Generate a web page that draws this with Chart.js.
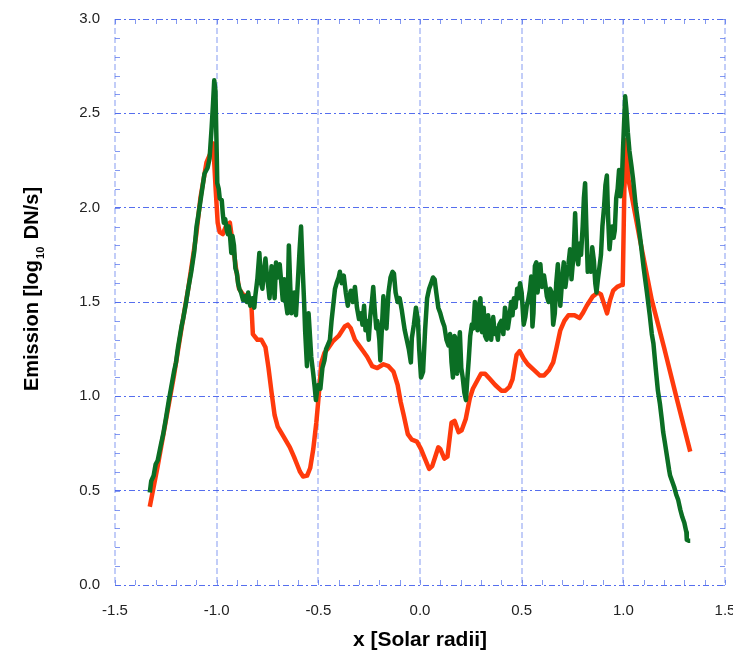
<!DOCTYPE html>
<html>
<head>
<meta charset="utf-8">
<script src="https://cdn.jsdelivr.net/npm/chart.js@4.4.1/dist/chart.umd.min.js"></script>
<style>
  body { margin: 0; background: #fff; }
  #wrap { width: 733px; height: 655px; }
</style>
</head>
<body>
<div id="wrap"><canvas id="myChart" width="733" height="655"></canvas></div>
<script>
// tick values
var xTickValues = [-1.5, -1.0, -0.5, 0.0, 0.5, 1.0, 1.5];
var yTickValues = [0.0, 0.5, 1.0, 1.5, 2.0, 2.5, 3.0];

// red curve (smooth)
var redX = [-1.329, -1.29, -1.25, -1.21, -1.17, -1.14, -1.10, -1.08, -1.05, -1.03, -1.017, -1.005, -0.995, -0.985, -0.97, -0.955, -0.935,
  -0.92, -0.905, -0.89, -0.87, -0.85, -0.83, -0.822, -0.80, -0.78, -0.76, -0.745, -0.73, -0.715, -0.70, -0.673, -0.64, -0.62, -0.605,
  -0.59, -0.575, -0.555, -0.54, -0.525, -0.51, -0.50, -0.485, -0.47, -0.455, -0.43, -0.40, -0.37, -0.355, -0.34, -0.32, -0.30, -0.28,
  -0.26, -0.235, -0.21, -0.18, -0.155, -0.13, -0.11, -0.095, -0.08, -0.06, -0.04, -0.015, 0.005, 0.02, 0.045, 0.06, 0.075, 0.09, 0.10,
  0.12, 0.135, 0.155, 0.17, 0.19, 0.205, 0.225, 0.245, 0.26, 0.28, 0.30, 0.32, 0.345, 0.37, 0.40, 0.42, 0.44, 0.455, 0.475, 0.49, 0.51,
  0.53, 0.56, 0.59, 0.61, 0.635, 0.655, 0.67, 0.69, 0.71, 0.73, 0.76, 0.785, 0.80, 0.82, 0.85, 0.875, 0.89, 0.905, 0.92, 0.935, 0.95,
  0.97, 0.99, 0.997, 1.005, 1.017, 1.025, 1.04, 1.08, 1.14, 1.20, 1.26, 1.329];
var redY = [0.415, 0.63, 0.87, 1.11, 1.38, 1.57, 1.86, 2.05, 2.24, 2.29, 2.34, 2.10, 1.92, 1.87, 1.86, 1.90, 1.92,
  1.80, 1.68, 1.57, 1.54, 1.53, 1.50, 1.33, 1.30, 1.30, 1.26, 1.15, 1.02, 0.90, 0.84, 0.79, 0.73, 0.68, 0.64,
  0.60, 0.575, 0.58, 0.62, 0.72, 0.86, 0.98, 1.18, 1.23, 1.25, 1.29, 1.32, 1.37, 1.38, 1.36, 1.30, 1.27, 1.24,
  1.21, 1.16, 1.15, 1.17, 1.16, 1.13, 1.06, 0.97, 0.90, 0.80, 0.77, 0.76, 0.72, 0.68, 0.615, 0.63, 0.68, 0.73, 0.72,
  0.67, 0.68, 0.86, 0.87, 0.81, 0.82, 0.88, 0.99, 1.04, 1.08, 1.12, 1.12, 1.09, 1.06, 1.03, 1.03, 1.05, 1.09, 1.22, 1.24, 1.20,
  1.17, 1.14, 1.11, 1.11, 1.14, 1.18, 1.25, 1.35, 1.40, 1.43, 1.43, 1.415, 1.44, 1.48, 1.53, 1.55, 1.54, 1.49, 1.44, 1.51, 1.56,
  1.58, 1.59, 1.59, 2.10, 2.36, 2.15, 2.07, 1.84, 1.51, 1.26, 1.00, 0.707];

// green curve (noisy)
var greenX = [-1.329, -1.322, -1.31, -1.30, -1.29, -1.275, -1.263, -1.25, -1.235, -1.225, -1.21, -1.20, -1.19, -1.173, -1.165, -1.15,
  -1.14, -1.125, -1.11, -1.099, -1.09, -1.075, -1.06, -1.045, -1.035, -1.025, -1.018, -1.012, -1.006, -1.0, -0.997, -0.99, -0.985,
  -0.975, -0.97, -0.965, -0.958, -0.95, -0.945, -0.94, -0.935, -0.928, -0.922, -0.915, -0.908, -0.90, -0.895, -0.888, -0.88, -0.87,
  -0.86, -0.852, -0.845, -0.835, -0.825, -0.815, -0.81, -0.80, -0.79, -0.782, -0.775, -0.768, -0.76, -0.752, -0.745, -0.74, -0.73,
  -0.722, -0.715, -0.708, -0.70, -0.69, -0.682, -0.675, -0.668, -0.66, -0.652, -0.645, -0.638, -0.632, -0.625, -0.618, -0.61, -0.60,
  -0.592, -0.585, -0.578, -0.57, -0.565, -0.556, -0.548, -0.54, -0.535, -0.525, -0.518, -0.512, -0.505, -0.50, -0.49, -0.48, -0.47,
  -0.462, -0.45, -0.443, -0.435, -0.425, -0.418, -0.41, -0.40, -0.394, -0.385, -0.375, -0.365, -0.355, -0.35, -0.34, -0.33, -0.32,
  -0.31, -0.30, -0.29, -0.283, -0.275, -0.268, -0.26, -0.252, -0.245, -0.235, -0.23, -0.222, -0.215, -0.21, -0.20, -0.195, -0.188,
  -0.18, -0.172, -0.165, -0.155, -0.145, -0.135, -0.128, -0.12, -0.11, -0.10, -0.09, -0.082, -0.075, -0.065, -0.055, -0.045, -0.04,
  -0.03, -0.02, -0.01, -0.004, 0.005, 0.015, 0.025, 0.035, 0.045, 0.055, 0.064, 0.072, 0.08, 0.09, 0.10, 0.11, 0.12, 0.13, 0.14,
  0.148, 0.155, 0.162, 0.17, 0.177, 0.183, 0.19, 0.196, 0.203, 0.21, 0.218, 0.226, 0.232, 0.24, 0.247, 0.255, 0.262, 0.27, 0.277,
  0.283, 0.29, 0.297, 0.305, 0.313, 0.32, 0.328, 0.335, 0.343, 0.35, 0.36, 0.368, 0.375, 0.383, 0.39, 0.40, 0.41, 0.418, 0.425,
  0.432, 0.44, 0.448, 0.455, 0.462, 0.47, 0.478, 0.485, 0.492, 0.50, 0.51, 0.518, 0.525, 0.532, 0.54, 0.547, 0.553, 0.558, 0.565,
  0.572, 0.578, 0.585, 0.592, 0.60, 0.61, 0.618, 0.624, 0.632, 0.64, 0.648, 0.655, 0.663, 0.67, 0.678, 0.685, 0.69, 0.70, 0.707,
  0.715, 0.722, 0.73, 0.738, 0.745, 0.755, 0.763, 0.77, 0.778, 0.785, 0.792, 0.80, 0.806, 0.812, 0.818, 0.825, 0.832, 0.84, 0.847,
  0.855, 0.862, 0.868, 0.875, 0.882, 0.89, 0.897, 0.905, 0.912, 0.919, 0.925, 0.932, 0.938, 0.945, 0.952, 0.958, 0.965, 0.972,
  0.979, 0.985, 0.992, 0.998, 1.005, 1.009, 1.015, 1.022, 1.03, 1.04, 1.048, 1.06, 1.073, 1.085, 1.10, 1.116, 1.13, 1.14, 1.148,
  1.16, 1.17, 1.18, 1.19, 1.196, 1.205, 1.215, 1.225, 1.23, 1.24, 1.25, 1.26, 1.27, 1.28, 1.29, 1.30, 1.31, 1.312, 1.32, 1.329];
var greenY = [0.49, 0.55, 0.58, 0.64, 0.66, 0.74, 0.80, 0.88, 0.98, 1.04, 1.13, 1.18, 1.26, 1.37, 1.41, 1.50,
  1.57, 1.66, 1.77, 1.90, 1.96, 2.07, 2.18, 2.21, 2.26, 2.42, 2.55, 2.675, 2.62, 2.30, 2.13, 2.10, 2.05,
  2.04, 1.97, 1.92, 1.94, 1.88, 1.86, 1.90, 1.86, 1.76, 1.85, 1.80, 1.68, 1.65, 1.60, 1.57, 1.55, 1.51,
  1.53, 1.50, 1.55, 1.48, 1.52, 1.47, 1.53, 1.62, 1.76, 1.60, 1.57, 1.66, 1.73, 1.63, 1.57, 1.52, 1.69,
  1.62, 1.52, 1.71, 1.63, 1.70, 1.60, 1.51, 1.62, 1.50, 1.44, 1.80, 1.58, 1.44, 1.47, 1.55, 1.43, 1.62,
  1.78, 1.90, 1.70, 1.50, 1.35, 1.16, 1.44, 1.30, 1.21, 1.12, 1.05, 0.98, 1.04, 1.06, 1.04, 1.15, 1.19,
  1.25, 1.28, 1.30, 1.40, 1.50, 1.57, 1.60, 1.63, 1.66, 1.60, 1.64, 1.55, 1.48, 1.52, 1.56, 1.50, 1.58,
  1.47, 1.41, 1.44, 1.38, 1.48, 1.35, 1.40, 1.30, 1.42, 1.52, 1.58, 1.45, 1.36, 1.40, 1.30, 1.19, 1.35,
  1.53, 1.42, 1.36, 1.55, 1.63, 1.66, 1.65, 1.55, 1.50, 1.52, 1.46, 1.40, 1.35, 1.30, 1.25, 1.18, 1.31,
  1.38, 1.47, 1.40, 1.25, 1.10, 1.13, 1.35, 1.52, 1.57, 1.60, 1.63, 1.62, 1.55, 1.47, 1.44, 1.40, 1.37, 1.30, 1.27,
  1.33, 1.18, 1.10, 1.32, 1.30, 1.12, 1.25, 1.34, 1.15, 1.10, 1.02, 0.98, 1.08, 1.20, 1.32, 1.38, 1.36, 1.50, 1.42,
  1.35, 1.48, 1.52, 1.34, 1.47, 1.32, 1.30, 1.43, 1.35, 1.30, 1.42, 1.33, 1.36, 1.30, 1.38, 1.40, 1.33, 1.47, 1.42,
  1.36, 1.42, 1.50, 1.43, 1.52, 1.47, 1.57, 1.52, 1.60, 1.55, 1.38, 1.42, 1.48, 1.51, 1.56, 1.635, 1.37, 1.44, 1.69,
  1.71, 1.55, 1.62, 1.70, 1.58, 1.64, 1.58, 1.53, 1.50, 1.57, 1.55, 1.38, 1.44, 1.60, 1.70, 1.55, 1.48, 1.63, 1.71,
  1.58, 1.64, 1.70, 1.78, 1.62, 1.75, 1.97, 1.75, 1.70, 1.81, 1.75, 1.90, 2.05, 2.13, 1.90, 1.66, 1.70, 1.66, 1.79,
  1.72, 1.60, 1.55, 1.62, 1.68, 1.75, 1.90, 2.00, 2.12, 2.17, 1.95, 1.78, 1.85, 1.90, 1.84, 1.88, 2.05, 2.10,
  2.20, 2.06, 2.12, 2.30, 2.48, 2.59, 2.52, 2.40, 2.30, 2.22, 2.15, 2.02, 1.92, 1.82, 1.68, 1.55, 1.43, 1.33, 1.28,
  1.14, 1.03, 0.96, 0.87, 0.81, 0.75, 0.68, 0.61, 0.58, 0.55, 0.52, 0.48, 0.45, 0.40, 0.36, 0.33, 0.28, 0.24, 0.235, 0.235];

function toPoints(xs, ys) {
    var pts = [];
    for (var i = 0; i < xs.length; i++) pts.push({ x: xs[i], y: ys[i] });
    return pts;
}

var labelFont = "'Liberation Sans', Arial, Helvetica, sans-serif";

// inward minor ticks on all four sides + axis titles
var framePlugin = {
    id: 'framePlugin',
    afterDraw: function (chart) {
        var c = chart.ctx, a = chart.chartArea;
        var xs = chart.scales.x, ys = chart.scales.y;
        c.save();
        c.strokeStyle = 'rgba(80,110,235,0.7)';
        c.lineWidth = 1;
        c.beginPath();
        for (var i = -15; i <= 15; i++) {
            var px = Math.round(xs.getPixelForValue(i / 10)) + 0.5;
            c.moveTo(px, a.bottom); c.lineTo(px, a.bottom - 5);
            c.moveTo(px, a.top); c.lineTo(px, a.top + 5);
        }
        for (var j = 0; j <= 30; j++) {
            var py = Math.round(ys.getPixelForValue(j / 10)) + 0.5;
            c.moveTo(a.left, py); c.lineTo(a.left + 5, py);
            c.moveTo(a.right, py); c.lineTo(a.right - 5, py);
        }
        c.stroke();

        // x title
        c.fillStyle = '#000';
        c.font = 'bold 21px ' + labelFont;
        c.textAlign = 'center';
        c.textBaseline = 'middle';
        c.fillText('x [Solar radii]', (a.left + a.right) / 2, 640);

        // y title with subscript
        var p1 = 'Emission [log', p2 = '10', p3 = ' DN/s]';
        c.font = 'bold 20px ' + labelFont;
        var w1 = c.measureText(p1).width, w3 = c.measureText(p3).width;
        c.font = 'bold 11px ' + labelFont;
        var w2 = c.measureText(p2).width + 3;
        var total = w1 + w2 + w3;
        c.translate(38, 289);
        c.rotate(-Math.PI / 2);
        c.textAlign = 'left';
        c.textBaseline = 'alphabetic';
        c.font = 'bold 20px ' + labelFont;
        c.fillText(p1, -total / 2, 0);
        c.font = 'bold 11px ' + labelFont;
        c.fillText(p2, -total / 2 + w1 + 1, 6);
        c.font = 'bold 20px ' + labelFont;
        c.fillText(p3, -total / 2 + w1 + w2, 0);
        c.restore();
    }
};

var ctx = document.getElementById('myChart').getContext('2d');

var myChart = new Chart(ctx, {
    type: 'scatter',
    data: {
        datasets: [{
            label: 'green',
            data: toPoints(greenX, greenY),
            showLine: true,
            borderColor: '#0b6e24',
            borderWidth: 4.5,
            borderJoinStyle: 'round',
            pointRadius: 0,
            tension: 0
        }, {
            label: 'red',
            data: toPoints(redX, redY),
            showLine: true,
            borderColor: '#ff3a0c',
            borderWidth: 4.5,
            borderJoinStyle: 'round',
            pointRadius: 0,
            tension: 0
        }]
    },
    options: {
        responsive: false,
        animation: false,
        layout: { padding: { top: 19, right: 8, left: 0, bottom: 0 } },
        plugins: {
            legend: { display: false },
            tooltip: { enabled: false }
        },
        scales: {
            x: {
                type: 'linear',
                min: -1.5,
                max: 1.5,
                afterBuildTicks: function (scale) {
                    scale.ticks = xTickValues.map(function (v) { return { value: v }; });
                },
                afterFit: function (scale) {
                    scale.height = 70;
                    scale.paddingLeft = 0;
                    scale.paddingRight = 0;
                },
                ticks: {
                    padding: 17,
                    color: '#222',
                    font: { family: labelFont, size: 15 },
                    maxRotation: 0,
                    callback: function (v) { return v.toFixed(1); }
                },
                grid: { color: 'rgba(120,145,240,0.45)', lineWidth: 2, drawTicks: false },
                border: { display: false, dash: [6, 3] }
            },
            y: {
                type: 'linear',
                min: 0,
                max: 3,
                afterBuildTicks: function (scale) {
                    scale.ticks = yTickValues.map(function (v) { return { value: v }; });
                },
                afterFit: function (scale) {
                    scale.width = 115;
                    scale.paddingTop = 0;
                    scale.paddingBottom = 0;
                },
                ticks: {
                    padding: 15,
                    color: '#222',
                    font: { family: labelFont, size: 15 },
                    callback: function (v) { return v.toFixed(1); }
                },
                grid: { color: 'rgba(55,85,235,0.85)', lineWidth: 1, drawTicks: false },
                border: { display: false, dash: [6, 3, 2, 3] }
            }
        }
    },
    plugins: [framePlugin]
});
</script>
</body>
</html>
